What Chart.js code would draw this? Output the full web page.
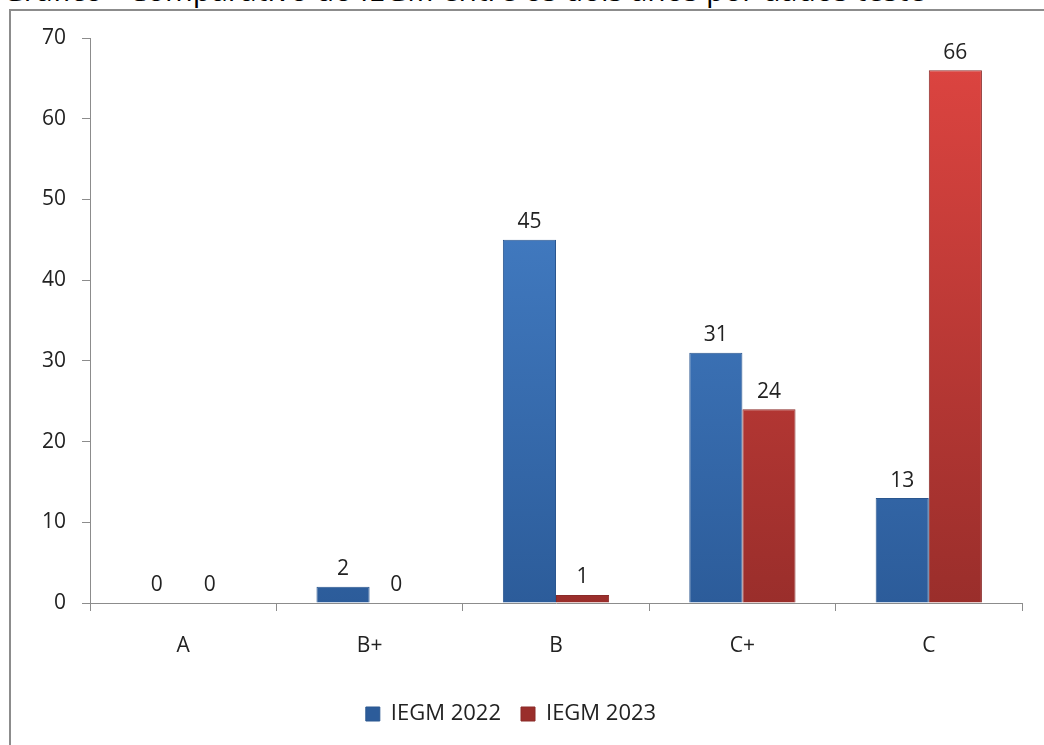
<!DOCTYPE html>
<html>
<head>
<meta charset="utf-8">
<script src="https://cdn.jsdelivr.net/npm/chart.js@4"></script>
<style>
  html, body { margin: 0; padding: 0; background: #fff; overflow: hidden; }
  #wrap { position: relative; width: 1044px; height: 745px; overflow: hidden; }
  #frame { position: absolute; left: 9px; top: 9px; width: 1100px; height: 800px;
           border: 2px solid #8c8c8c; box-sizing: border-box; }
  #title { position: absolute; left: 2px; top: -31px; width: 1100px; white-space: nowrap;
           font-family: "Open Sans", sans-serif; font-size: 30px; color: #000; }
  canvas { position: absolute; left: 0; top: 0; }
</style>
</head>
<body>
<div id="wrap">
  <div id="title">Gráfico - Comparativo do IEGM entre os dois anos por dados teste</div>
  <div id="frame"></div>
  <canvas id="chart" width="1044" height="745"></canvas>
</div>
<script>
// categories and values
const categories = ['A', 'B+', 'B', 'C+', 'C'];
const iegm2022 = [0, 2, 45, 31, 13];
const iegm2023 = [0, 0, 1, 24, 66];
const seriesNames = ['IEGM 2022', 'IEGM 2023'];
const yTicks = [0, 10, 20, 30, 40, 50, 60, 70];

const FONT = '"Open Sans", "DejaVu Sans", sans-serif';

function barFill(top, bottom) {
  return function(context) {
    const area = context.chart.chartArea;
    if (!area) return top;
    const g = context.chart.ctx.createLinearGradient(0, area.top, 0, area.bottom);
    g.addColorStop(0, top);
    g.addColorStop(1, bottom);
    return g;
  };
}

// numbers above each bar
const valueLabels = {
  id: 'valueLabels',
  afterDatasetsDraw(chart) {
    const ctx = chart.ctx;
    ctx.save();
    ctx.font = '21px ' + FONT;
    ctx.fillStyle = '#222';
    ctx.textAlign = 'center';
    ctx.textBaseline = 'bottom';
    chart.data.datasets.forEach((ds, i) => {
      chart.getDatasetMeta(i).data.forEach((bar, j) => {
        ctx.fillText(ds.data[j], bar.x, bar.y - 7);
      });
    });
    ctx.restore();
  }
};

new Chart(document.getElementById('chart'), {
  type: 'bar',
  data: {
    labels: categories,
    datasets: [{
      label: seriesNames[0],
      data: iegm2022,
      backgroundColor: barFill('#4b88d2', '#2c5c9a'),
      borderColor: '#2a568f',
      borderWidth: 1,
      categoryPercentage: 0.57,
      barPercentage: 1.0
    }, {
      label: seriesNames[1],
      data: iegm2023,
      backgroundColor: barFill('#df4541', '#9a2e2b'),
      borderColor: '#8a2a28',
      borderWidth: 1,
      categoryPercentage: 0.57,
      barPercentage: 1.0
    }]
  },
  options: {
    responsive: false,
    animation: false,
    layout: { padding: { top: 38, right: 22, left: 0, bottom: 10 } },
    scales: {
      x: {
        grid: { drawOnChartArea: false, drawTicks: true, tickLength: 8, color: '#8c8c8c', offset: true },
        border: { color: '#8c8c8c' },
        ticks: { color: '#222', font: { family: FONT, size: 21 }, padding: 22 },
        afterFit(scale) { scale.height = 80; }
      },
      y: {
        min: 0, max: 70,
        afterBuildTicks(scale) { scale.ticks = yTicks.map(v => ({ value: v })); },
        grid: { drawOnChartArea: false, drawTicks: true, tickLength: 8, color: '#8c8c8c' },
        border: { color: '#8c8c8c' },
        ticks: { color: '#222', font: { family: FONT, size: 21 }, padding: 16 },
        afterFit(scale) { scale.width = 90; }
      }
    },
    plugins: {
      legend: {
        position: 'bottom',
        labels: { color: '#222', font: { family: FONT, size: 22 }, boxWidth: 14, boxHeight: 14, padding: 20 }
      },
      tooltip: { enabled: false }
    }
  },
  plugins: [valueLabels]
});
</script>
</body>
</html>
